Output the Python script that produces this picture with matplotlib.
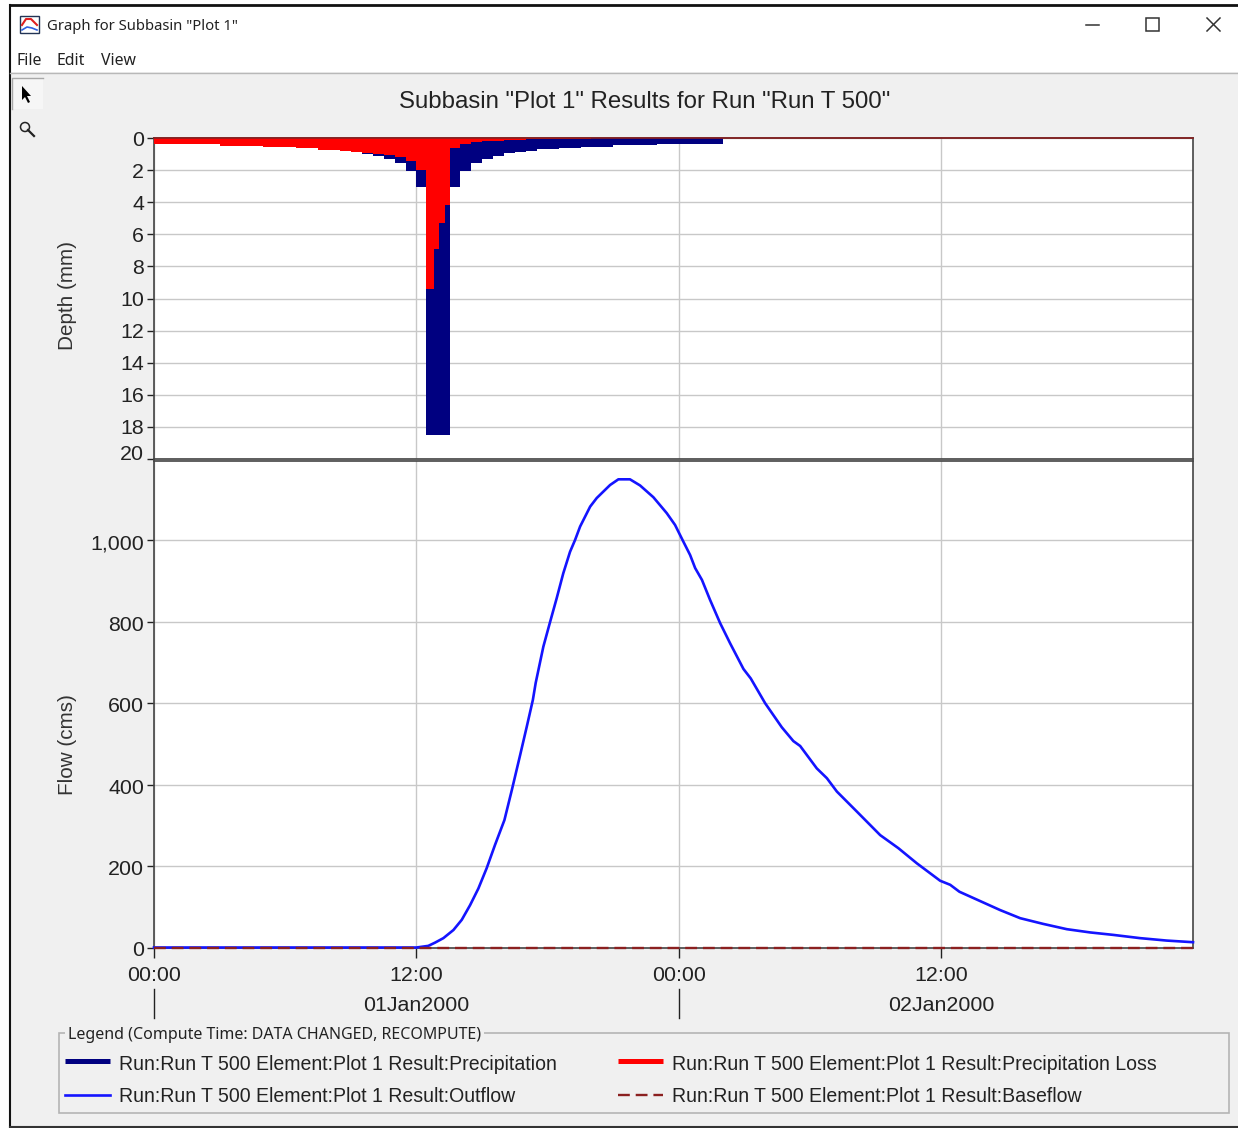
import matplotlib
matplotlib.use("Agg")
import matplotlib.pyplot as plt
from matplotlib.patches import Rectangle, Polygon, Circle
from matplotlib.transforms import ScaledTranslation

plt.rcParams['font.family'] = ['Liberation Sans', 'DejaVu Sans']

W, H = 1238, 1128

# hyetograph, half hour blocks from 00:00 to 02:00 next day (mm)
precip_depth = [0.37, 0.37, 0.37, 0.37, 0.37, 0.37, 0.48, 0.48, 0.48, 0.48, 0.56, 0.56, 0.56,
                0.64, 0.64, 0.75, 0.75, 0.81, 0.85, 1.0, 1.12, 1.31, 1.58, 2.04, 3.08, 18.5,
                18.5, 3.08, 2.04, 1.58, 1.28, 1.12, 0.96, 0.85, 0.79, 0.69, 0.69, 0.6, 0.6,
                0.54, 0.54, 0.54, 0.46, 0.46, 0.46, 0.46, 0.37, 0.37, 0.37, 0.37, 0.37, 0.37]
precip_hours = [0, 0.5, 1, 1.5, 2, 2.5, 3, 3.5, 4, 4.5, 5, 5.5, 6, 6.5, 7, 7.5, 8, 8.5, 9, 9.5,
                10, 10.5, 11, 11.5, 12, 12.44, 13, 13.53, 14, 14.5, 15, 15.5, 16, 16.5, 17, 17.5,
                18, 18.5, 19, 19.5, 20, 20.5, 21, 21.5, 22, 22.5, 23, 23.5, 24, 24.5, 25, 25.5, 26]

loss_hours = [0, 3, 5, 6.5, 7.5, 8.5, 9, 9.5, 10, 10.5, 11, 11.5, 12, 12.44, 12.8, 13.05,
              13.31, 13.53, 14, 14.5, 15, 16, 17, 18, 20, 47.5]
loss_depth = [0.37, 0.48, 0.56, 0.64, 0.75, 0.81, 0.85, 0.96, 1.0, 1.06, 1.16, 1.41, 2.0,
              9.4, 6.9, 5.3, 4.18, 0.64, 0.37, 0.27, 0.2, 0.13, 0.08, 0.04, 0.0]

# outflow hydrograph (hours from 00:00, cms)
outflow_hours = [0, 12.0, 12.54, 12.85, 13.23, 13.69, 14.07, 14.45, 14.83, 15.21, 15.59, 16.02,
                 16.36, 16.74, 17.04, 17.32, 17.45, 17.80, 18.11, 18.41, 18.71, 19.02, 19.25,
                 19.48, 19.94, 20.24, 20.85, 21.23, 21.76, 22.22, 22.83, 23.44, 23.82, 24.20,
                 24.51, 24.74, 25.05, 25.42, 25.88, 26.34, 26.95, 27.28, 27.94, 28.70, 29.23,
                 29.54, 30.30, 30.76, 31.22, 32.13, 33.20, 34.03, 34.87, 35.94, 36.40, 36.82,
                 38.68, 39.60, 40.65, 41.73, 42.80, 43.85, 45.08, 46.30, 47.50]
outflow = [0, 0, 4, 12, 23, 43, 68, 104, 145, 195, 252, 313, 387, 473, 542, 608, 650, 739, 800,
           858, 919, 972, 1001, 1034, 1083, 1104, 1136, 1150, 1150, 1135, 1106, 1067, 1038, 997,
           964, 932, 903, 854, 797, 747, 684, 661, 600, 541, 507, 495, 440, 416, 383, 334, 276,
           244, 207, 164, 154, 137, 92, 72, 58, 45, 37, 31, 23, 17, 13]

baseflow_hours = [0, 47.5]
baseflow = [0, 0]

depth_ticks = list(range(0, 21, 2))
flow_ticks = [0, 200, 400, 600, 800, 1000]
flow_labels = ['0', '200', '400', '600', '800', '1,000']
time_ticks = [0, 12, 24, 36]
time_labels = ['00:00', '12:00', '00:00', '12:00']
date_ticks = [12, 36]
date_labels = ['01Jan2000', '02Jan2000']
date_seps = [0, 24]

run = 'Run:Run T 500 Element:Plot 1 Result:'
title = 'Subbasin "Plot 1" Results for Run "Run T 500"'

NAVY = '#000080'
RED = '#ff0000'
BLUE = '#1414ff'
MAROON = '#8b2020'
GRID = '#c8c8c8'
DARK = '#444444'
TXT = '#222222'
TICKFS = 15.4
LEGFS = 14.08


def pxax(left, top, right, bottom):
    return fig.add_axes([left / W, 1 - bottom / H, (right - left) / W, (bottom - top) / H])


fig = plt.figure(figsize=(W / 100, H / 100), dpi=100, facecolor='#f0f0f0')

# window chrome, drawn in pixel coordinates
ch = fig.add_axes([0, 0, 1, 1], zorder=0)
ch.set_xlim(0, W)
ch.set_ylim(H, 0)
ch.axis('off')
ch.add_patch(Rectangle((0, 0), 10, H, color='white', lw=0))
ch.add_patch(Rectangle((0, 0), W, 5, color='white', lw=0))
ch.add_patch(Rectangle((10, 5), W, 67, color='white', lw=0))
ch.plot([10, W], [5, 5], color='#111111', lw=2)
ch.plot([10, 10], [5, 1127], color='#111111', lw=1.5)
ch.plot([10, W], [1127, 1127], color='#333333', lw=1.5)
ch.plot([10, W], [73, 73], color='#b8b8b8', lw=1)

# title bar
ch.add_patch(Rectangle((20, 16), 19, 17, fc='white', ec='#223355', lw=1))
ch.plot([22, 26, 31, 37], [25, 19, 19, 25], color='#e02020', lw=1.5)
ch.plot([22, 27, 32, 37], [30, 27, 28, 30], color='#3060e0', lw=1.2)
ui = ['Noto Sans', 'DejaVu Sans']
ch.text(47, 27, 'Graph for Subbasin "Plot 1"', family=ui, fontsize=10.7, va='center', color=TXT)
for x, s in zip([16, 57, 101], ['File', 'Edit', 'View']):
    ch.text(x, 61, s, family=ui, fontsize=11.4, va='center', color=TXT)
ch.plot([1086, 1099], [25, 25], color='#333333', lw=1.1)
ch.add_patch(Rectangle((1146, 18), 13, 13, fc='none', ec='#333333', lw=1.1))
ch.plot([1207, 1220], [18, 31], color='#333333', lw=1.1)
ch.plot([1207, 1220], [31, 18], color='#333333', lw=1.1)

# toolbar
ch.add_patch(Rectangle((12, 78), 31, 31, fc='#f6f6f6', lw=0))
ch.plot([12, 12, 43], [109, 78, 78], color='#a8a8a8', lw=1)
ch.add_patch(Polygon([(22, 86), (22, 100), (25, 97), (28, 103), (30, 102), (27, 96), (31, 96)],
                     color='black', lw=0))
ch.add_patch(Circle((25, 127), 4.5, fc='none', ec='#222222', lw=1.1))
ch.plot([28, 34], [130, 136], color='#222222', lw=1.6)

ch.text(644.5, 102, title, fontsize=17.3, ha='center', va='center', color=TXT)

# legend box
ch.add_patch(Rectangle((59, 1033), 1170, 80, fc='none', ec='#b4b4b4', lw=1.2))
ch.add_patch(Rectangle((65, 1026), 419, 14, fc='#f0f0f0', lw=0))
ch.text(68, 1035, 'Legend (Compute Time: DATA CHANGED, RECOMPUTE)', family=ui, fontsize=11.53,
        va='center', color=TXT)
ch.plot([65, 110], [1061, 1061], color=NAVY, lw=3.6, solid_capstyle='butt')
ch.plot([65, 110], [1095, 1095], color=BLUE, lw=1.9)
ch.plot([618, 663], [1061, 1061], color=RED, lw=3.6, solid_capstyle='butt')
ch.plot([618, 663], [1095, 1095], color=MAROON, lw=1.7, dashes=(5, 2.5))
ch.text(119, 1064.5, run + 'Precipitation', fontsize=LEGFS, va='center', color=TXT)
ch.text(119, 1096.5, run + 'Outflow', fontsize=LEGFS, va='center', color=TXT)
ch.text(672, 1064.5, run + 'Precipitation Loss', fontsize=LEGFS, va='center', color=TXT)
ch.text(672, 1096.5, run + 'Baseflow', fontsize=LEGFS, va='center', color=TXT)

# depth panel
ax1 = pxax(154, 138, 1193, 459)
ax1.set_zorder(2)
ax1.stairs(precip_depth, precip_hours, baseline=0, fill=True, color=NAVY, zorder=3)
ax1.stairs(loss_depth, loss_hours, baseline=0, fill=True, color=RED, zorder=4)
ax1.plot([0, 47.5], [0, 0], color=MAROON, lw=1.2, clip_on=False, zorder=5)
ax1.set_ylim(20, 0)
ax1.set_yticks(depth_ticks)
ax1.set_yticklabels([str(d) for d in depth_ticks])
ax1.set_ylabel('Depth (mm)', fontsize=14.9, color='#333333')
ax1.yaxis.set_label_coords(-0.0742, 0.51)

# flow panel
ax2 = pxax(154, 461, 1193, 947.5)
ax2.set_zorder(2)
ax2.plot(outflow_hours, outflow, color=BLUE, lw=1.9, zorder=4, clip_on=False)
ax2.plot(baseflow_hours, baseflow, color=MAROON, lw=1.7, dashes=(5, 2.5), zorder=5, clip_on=False)
ax2.set_ylim(0, 1195)
ax2.set_yticks(flow_ticks)
ax2.set_yticklabels(flow_labels)
ax2.set_ylabel('Flow (cms)', fontsize=14.9, color='#333333')
ax2.yaxis.set_label_coords(-0.0742, 0.417)

for ax in (ax1, ax2):
    ax.set_xlim(0, 47.5)
    ax.set_xticks(time_ticks)
    ax.grid(True, color=GRID, lw=1)
    ax.set_axisbelow(True)
    ax.tick_params(axis='y', length=5, width=1, pad=2, labelsize=TICKFS, labelcolor=TXT, color='#222222')
    for sp in ax.spines.values():
        sp.set_color(DARK)
        sp.set_linewidth(1.2)

ax1.tick_params(axis='x', length=0, labelbottom=False)
ax2.set_xticklabels(time_labels)
ax2.tick_params(axis='x', length=7, width=1, pad=6, labelsize=TICKFS, labelcolor=TXT, color='#222222')

# the 20 label sits a little above its tick, flow labels a touch below theirs
lab = ax1.get_yticklabels()[-1]
lab.set_transform(lab.get_transform() + ScaledTranslation(0, 6 / 100, fig.dpi_scale_trans))
for lab in ax2.get_yticklabels():
    lab.set_transform(lab.get_transform() + ScaledTranslation(0, -1.5 / 100, fig.dpi_scale_trans))

# second row of the time axis
trans = ax2.get_xaxis_transform()
for t, s in zip(date_ticks, date_labels):
    ax2.text(t, -0.12, s, transform=trans, fontsize=TICKFS, ha='center', va='center', color=TXT)
for t in date_seps:
    ax2.plot([t, t], [-0.085, -0.1446], transform=trans, color='#222222', lw=1, clip_on=False)

fig.savefig('out.png', dpi=100, facecolor=fig.get_facecolor())
